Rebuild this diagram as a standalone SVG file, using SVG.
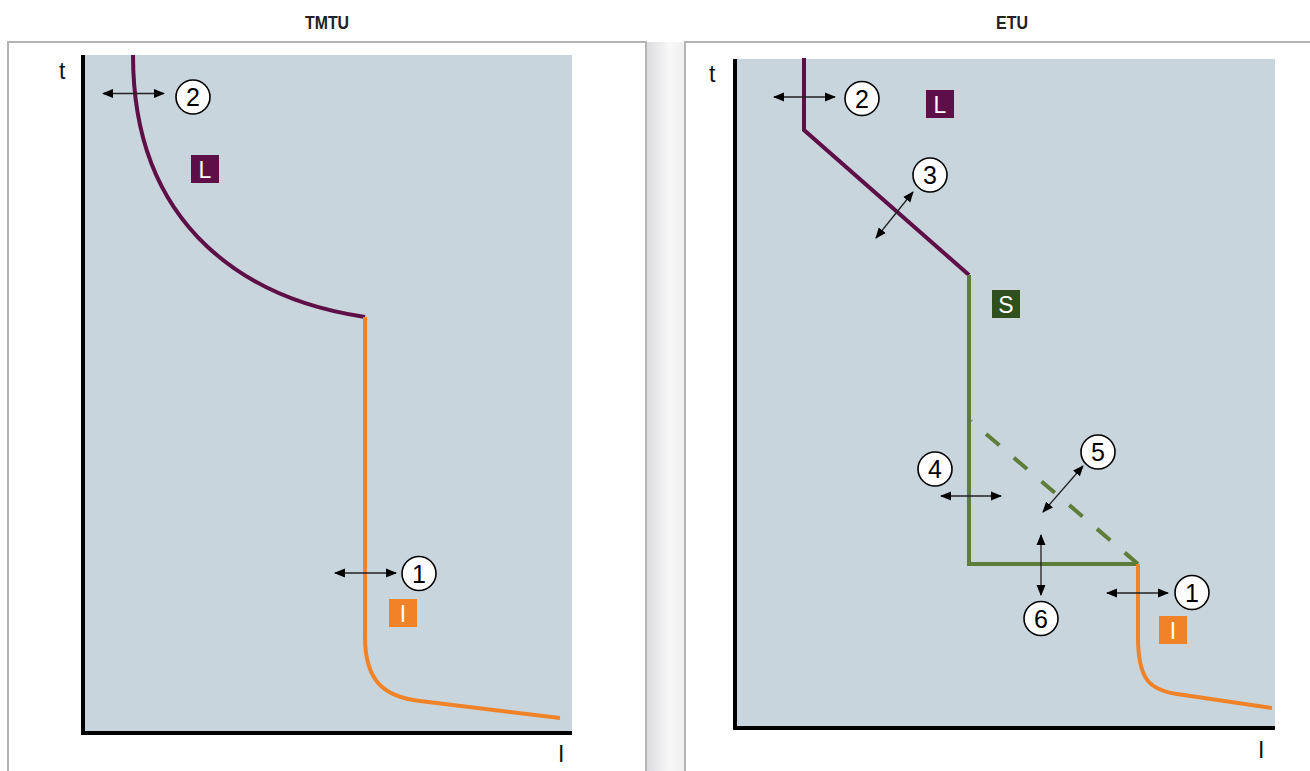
<svg xmlns="http://www.w3.org/2000/svg" width="1310" height="771" viewBox="0 0 1310 771">
<style>
.title{font-family:"Liberation Sans",Arial,sans-serif;font-weight:bold;font-size:19px;fill:#222;text-anchor:middle}
.axl{font-family:"Liberation Sans",Arial,sans-serif;font-size:23px;fill:#111}
.frame{fill:#fff;stroke:#b4b4b4;stroke-width:2}
.plot{fill:#c9d5dd}
.axis{stroke:#000;stroke-width:4;fill:none}
.purple{stroke:#5e0f47;stroke-width:4;fill:none}
.green{stroke:#5e7d38;stroke-width:4;fill:none}
.orange{stroke:#f08328;stroke-width:4;fill:none}
.arr{stroke:#222;stroke-width:1.3;fill:none;marker-start:url(#ah);marker-end:url(#ah)}
.circ{fill:#fff;stroke:#000;stroke-width:1.6}
.num{font-family:"Liberation Sans",Arial,sans-serif;font-size:25px;fill:#000;text-anchor:middle}
.box{font-family:"Liberation Sans",Arial,sans-serif;font-size:23px;fill:#fff;text-anchor:middle}
</style>
<defs>
<marker id="ah" markerUnits="userSpaceOnUse" markerWidth="11" markerHeight="10" refX="10" refY="5" orient="auto-start-reverse">
<path d="M0,0.5 L11,5 L0,9.5 z" fill="#000"/>
</marker>
<linearGradient id="sh" x1="0" y1="0" x2="1" y2="0">
<stop offset="0" stop-color="#dcdce0"/>
<stop offset="0.6" stop-color="#f8f8f8"/>
<stop offset="1" stop-color="#f0f0f0"/>
</linearGradient>
</defs>
<rect width="1310" height="771" fill="#fff"/>
<rect x="647" y="42" width="37" height="729" fill="url(#sh)"/>
<text class="title" x="327" y="29" textLength="44" lengthAdjust="spacingAndGlyphs">TMTU</text>
<text class="title" x="1012" y="29" textLength="32" lengthAdjust="spacingAndGlyphs">ETU</text>
<rect class="frame" x="8" y="42" width="638" height="740"/>
<rect class="frame" x="685" y="42" width="640" height="740"/>
<rect class="plot" x="83" y="55" width="489" height="678"/>
<rect class="plot" x="735" y="59" width="540" height="669"/>

<g id="axes">
<path class="axis" d="M83,55 V733 H572"/>
<path class="axis" d="M735,59 V728 H1275"/>
<text class="axl" x="59" y="79">t</text>
<text class="axl" x="558" y="762">I</text>
<text class="axl" x="709" y="82">t</text>
<text class="axl" x="1258" y="758">I</text>
</g>

<g id="curves">
<path class="purple" d="M133,55 C133,230 250,300 365,317"/>
<path class="orange" d="M365,317 V637 C365,682 385,697 420,701 L560,718"/>
<path class="purple" d="M804,58 V130 L969,275"/>
<path class="green" d="M969,275 V564 H1138"/>
<path class="green" d="M1138,564 L971,421" stroke-dasharray="17.5 19"/>
<path class="orange" d="M1138,564 V637 C1138,680 1150,690 1177,694 L1272,708"/>
</g>

<g id="connectors">
<line class="arr" x1="103" y1="93.5" x2="164" y2="93.5"/>
<line class="arr" x1="335" y1="573" x2="396" y2="573"/>
<line class="arr" x1="774" y1="97" x2="835" y2="97"/>
<line class="arr" x1="876" y1="238" x2="913" y2="192"/>
<line class="arr" x1="941" y1="496" x2="1001" y2="496"/>
<line class="arr" x1="1043" y1="512" x2="1083" y2="466"/>
<line class="arr" x1="1041" y1="535" x2="1041" y2="595"/>
<line class="arr" x1="1107" y1="593" x2="1168" y2="593"/>
</g>

<g id="left-2"><circle class="circ" cx="193" cy="97" r="17"/><text class="num" x="193" y="106">2</text></g>
<g id="left-1"><circle class="circ" cx="419" cy="573.5" r="17"/><text class="num" x="419" y="582.5">1</text></g>
<g id="left-L"><rect x="191" y="155" width="28" height="28" fill="#5e0f47"/><text class="box" x="205" y="177.5">L</text></g>
<g id="left-I"><rect x="389" y="599" width="28" height="28" fill="#f08328"/><text class="box" x="403" y="621.5">I</text></g>

<g id="right-2"><circle class="circ" cx="862" cy="98.5" r="17"/><text class="num" x="862" y="107.5">2</text></g>
<g id="right-L"><rect x="926" y="90" width="28" height="28" fill="#5e0f47"/><text class="box" x="940" y="112.5">L</text></g>
<g id="right-3"><circle class="circ" cx="930" cy="175" r="17"/><text class="num" x="930" y="184">3</text></g>
<g id="right-S"><rect x="992" y="290" width="28" height="28" fill="#2f4f1c"/><text class="box" x="1006" y="312.5">S</text></g>
<g id="right-4"><circle class="circ" cx="935" cy="469" r="17"/><text class="num" x="935" y="478">4</text></g>
<g id="right-5"><circle class="circ" cx="1098" cy="452" r="17"/><text class="num" x="1098" y="461">5</text></g>
<g id="right-6"><circle class="circ" cx="1041" cy="618.5" r="17"/><text class="num" x="1041" y="627.5">6</text></g>
<g id="right-1"><circle class="circ" cx="1192" cy="592.5" r="17"/><text class="num" x="1192" y="601.5">1</text></g>
<g id="right-I"><rect x="1159" y="616" width="28" height="28" fill="#f08328"/><text class="box" x="1173" y="638.5">I</text></g>
</svg>
